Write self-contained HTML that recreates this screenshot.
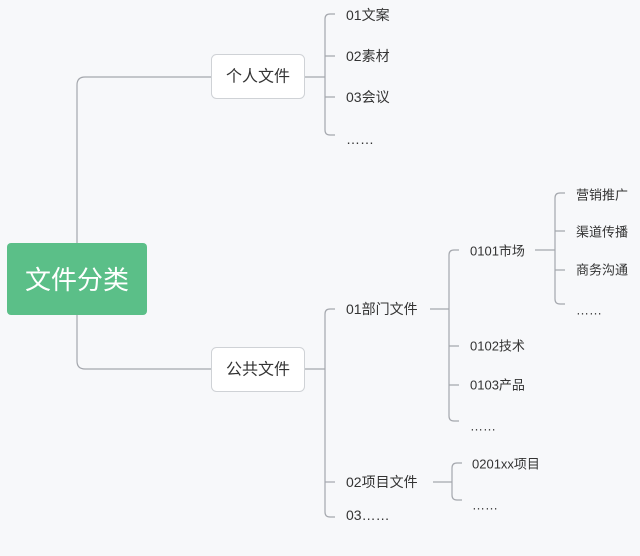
<!DOCTYPE html>
<html><head><meta charset="utf-8"><style>
html,body{margin:0;padding:0;background:#f7f8fa;}
svg{display:block;}
text{font-family:"Liberation Sans","Noto Sans CJK SC",sans-serif;fill:#333;dominant-baseline:central;}
</style></head><body>
<svg width="640" height="556" viewBox="0 0 640 556" xmlns="http://www.w3.org/2000/svg">
<rect width="640" height="556" fill="#f7f8fa"/>
<g fill="none" stroke="#a4a7ad" stroke-width="1.2">
<!-- root connectors -->
<path d="M77 243 V85 Q77 77 85 77 H211"/>
<path d="M77 315 V361 Q77 369 85 369 H211"/>
<!-- personal -->
<path d="M304 77 H325"/>
<path d="M335 14 H330 Q325 14 325 19 V130 Q325 135 330 135 H335"/>
<path d="M325 56 H335 M325 97 H335"/>
<!-- public -->
<path d="M304 369 H325"/>
<path d="M335 309 H330 Q325 309 325 314 V512 Q325 517 330 517 H335"/>
<path d="M325 482 H335"/>
<!-- 01部门文件 -->
<path d="M430 309 H449"/>
<path d="M459 250 H454 Q449 250 449 255 V416 Q449 421 454 421 H459"/>
<path d="M449 346 H459 M449 385 H459"/>
<!-- 0101市场 -->
<path d="M535 250 H555"/>
<path d="M565 193 H560 Q555 193 555 198 V299 Q555 304 560 304 H565"/>
<path d="M555 231 H565 M555 270 H565"/>
<!-- 02项目文件 -->
<path d="M433 482 H452"/>
<path d="M462 463 H457 Q452 463 452 468 V495 Q452 500 457 500 H462"/>
</g>
<!-- root -->
<rect x="7" y="243" width="140" height="72" rx="4" fill="#5bbf88"/>
<text x="77" y="280" text-anchor="middle" font-size="26" style="fill:#fff">文件分类</text>
<!-- level1 boxes -->
<rect x="211.5" y="54.5" width="93" height="44" rx="5" fill="#fff" stroke="#cfd2d6"/>
<text x="258" y="77" text-anchor="middle" font-size="16">个人文件</text>
<rect x="211.5" y="347.5" width="93" height="44" rx="5" fill="#fff" stroke="#cfd2d6"/>
<text x="258" y="370" text-anchor="middle" font-size="16">公共文件</text>
<g font-size="14">
<text x="346" y="15">01文案</text>
<text x="346" y="56">02素材</text>
<text x="346" y="97">03会议</text>
<text x="346" y="139">……</text>
<text x="346" y="309">01部门文件</text>
<text x="346" y="482">02项目文件</text>
<text x="346" y="515">03……</text>
</g>
<g font-size="13">
<text x="470" y="251">0101市场</text>
<text x="470" y="346">0102技术</text>
<text x="470" y="385">0103产品</text>
<text x="470" y="426">……</text>
<text x="472" y="464">0201xx项目</text>
<text x="472" y="505">……</text>
<text x="576" y="195">营销推广</text>
<text x="576" y="232">渠道传播</text>
<text x="576" y="270">商务沟通</text>
<text x="576" y="310">……</text>
</g>
</svg>
</body></html>
